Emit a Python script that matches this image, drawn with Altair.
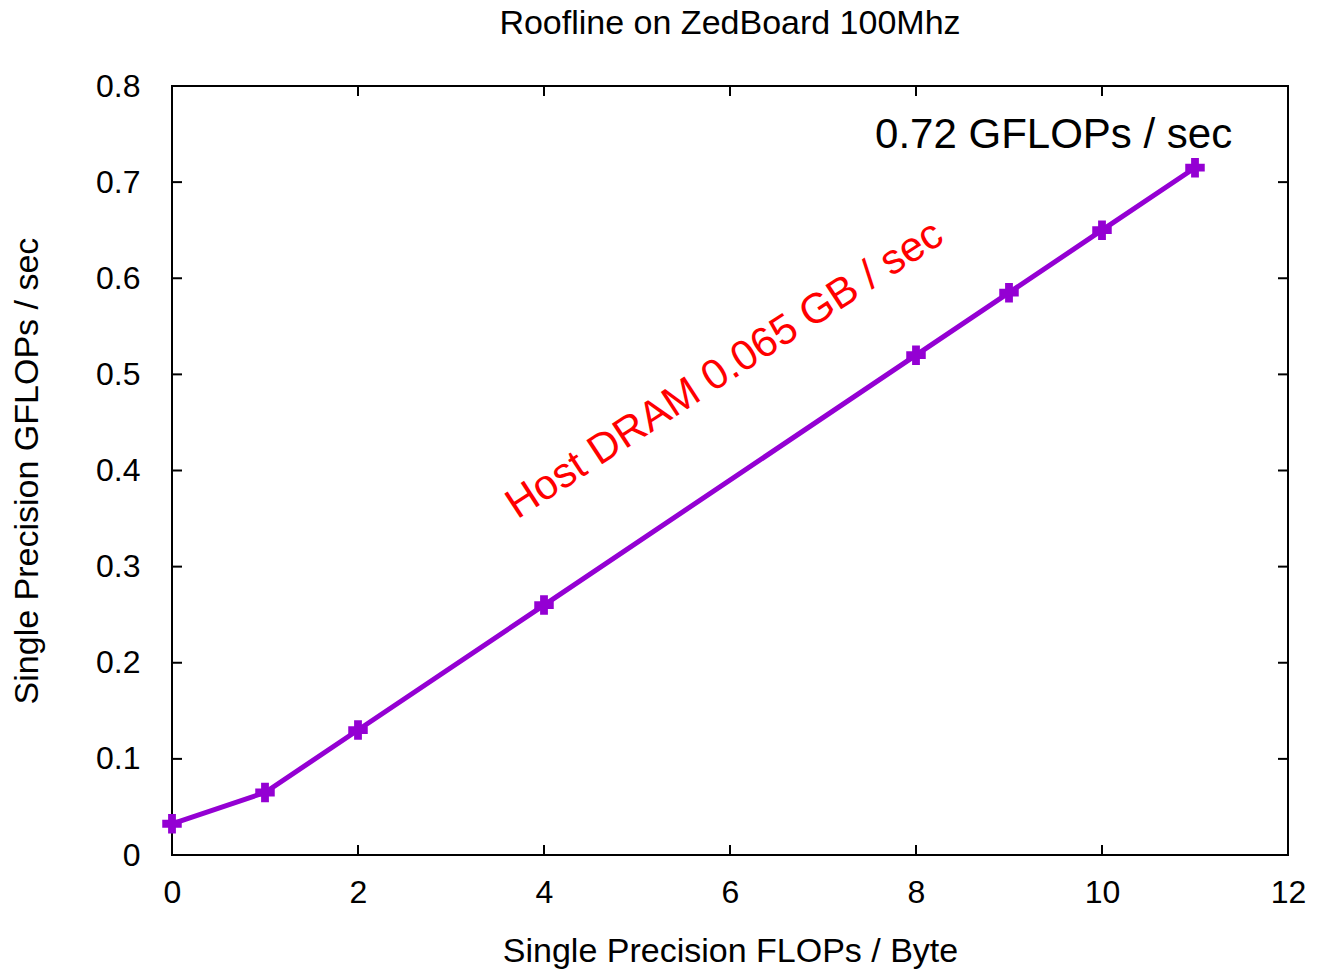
import altair as alt
import pandas as pd

# data
flops_per_byte = [0, 1, 2, 4, 8, 9, 10, 11]
gflops = [0.0325, 0.065, 0.13, 0.26, 0.52, 0.585, 0.65, 0.715]

x_ticks = [0, 2, 4, 6, 8, 10, 12]
y_ticks = [0, 0.1, 0.2, 0.3, 0.4, 0.5, 0.6, 0.7, 0.8]

peak_label = ["0.72 GFLOPs / sec"]
peak_x = [11.4]
peak_y = [0.749]

bw_label = ["Host DRAM 0.065 GB / sec"]
bw_x = [5.94]
bw_y = [0.505]

W, H = 1116, 769
FONT = "Liberation Sans"

df = pd.DataFrame({"x": flops_per_byte, "y": gflops})
xs = alt.Scale(domain=[0, 12], nice=False, zero=False)
ys = alt.Scale(domain=[0, 0.8], nice=False, zero=False)

xaxis = alt.Axis(values=x_ticks, format="d", ticks=False, domain=False, grid=False,
                 labelFlush=False, labelFontSize=32, labelPadding=22, labelColor="black",
                 titleFontSize=34, titleFontWeight="normal", titlePadding=26,
                 titleColor="black", labelFont=FONT, titleFont=FONT)
yaxis = alt.Axis(values=y_ticks, format="~g", ticks=False, domain=False, grid=False,
                 labelFlush=False, labelFontSize=32, labelPadding=32, labelColor="black",
                 titleFontSize=34, titleFontWeight="normal", titlePadding=51,
                 titleColor="black", labelFont=FONT, titleFont=FONT)

line = alt.Chart(df).mark_line(color="#9400D3", strokeWidth=5).encode(
    x=alt.X("x:Q", scale=xs, axis=xaxis, title="Single Precision FLOPs / Byte"),
    y=alt.Y("y:Q", scale=ys, axis=yaxis, title="Single Precision GFLOPs / sec"),
)
pts = alt.Chart(df).mark_point(shape="cross", filled=True, size=380, color="#9400D3", opacity=1).encode(
    x=alt.X("x:Q", scale=xs), y=alt.Y("y:Q", scale=ys)
)

xt = pd.DataFrame({"t": x_ticks})
yt = pd.DataFrame({"t": y_ticks})
TL = 10
tick_style = dict(color="black", strokeWidth=2)
xb = alt.Chart(xt).mark_rule(**tick_style).encode(
    x=alt.X("t:Q", scale=xs), y=alt.value(H), y2=alt.value(H - TL))
xtop = alt.Chart(xt).mark_rule(**tick_style).encode(
    x=alt.X("t:Q", scale=xs), y=alt.value(0), y2=alt.value(TL))
yl = alt.Chart(yt).mark_rule(**tick_style).encode(
    y=alt.Y("t:Q", scale=ys), x=alt.value(0), x2=alt.value(TL))
yr = alt.Chart(yt).mark_rule(**tick_style).encode(
    y=alt.Y("t:Q", scale=ys), x=alt.value(W), x2=alt.value(W - TL))

peak = alt.Chart(pd.DataFrame({"x": peak_x, "y": peak_y, "t": peak_label})).mark_text(
    align="right", baseline="middle", fontSize=42, font=FONT, color="black"
).encode(x=alt.X("x:Q", scale=xs), y=alt.Y("y:Q", scale=ys), text="t:N")

bw = alt.Chart(pd.DataFrame({"x": bw_x, "y": bw_y, "t": bw_label})).mark_text(
    align="center", baseline="middle", fontSize=42, font=FONT, color="red", angle=327
).encode(x=alt.X("x:Q", scale=xs), y=alt.Y("y:Q", scale=ys), text="t:N")

chart = alt.layer(line, pts, xb, xtop, yl, yr, peak, bw).properties(
    width=W, height=H,
    background="white",
    title=alt.TitleParams("Roofline on ZedBoard 100Mhz", fontSize=34, font=FONT,
                          fontWeight="normal", color="black", anchor="middle", offset=29),
    autosize=alt.AutoSizeParams(type="none"),
    padding={"left": 164, "top": 78, "right": 23, "bottom": 118},
).configure_view(stroke="black", strokeWidth=2)

chart.save("out.html", embed_options={"renderer": "svg", "actions": False})
